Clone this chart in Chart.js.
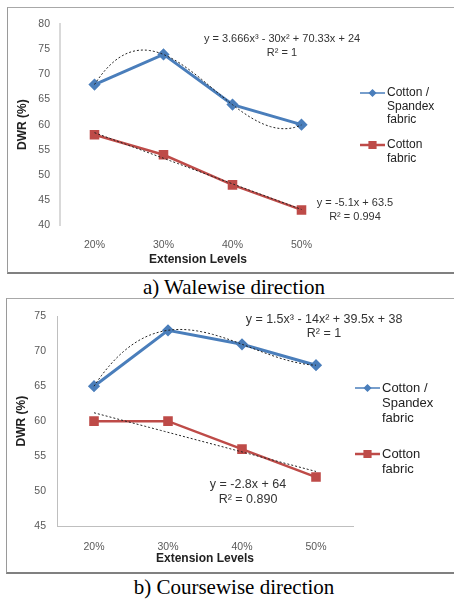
<!DOCTYPE html>
<html>
<head>
<meta charset="utf-8">
<script src="https://cdn.jsdelivr.net/npm/chart.js@4"></script>
<style>
  body { margin: 0; background: #fff; width: 454px; height: 599px; overflow: hidden; position: relative; }
  .frame { position: absolute; border-left: 1px solid #9a9a9a; border-top: 1px solid #a8a8a8; border-bottom: 2px solid #808080; width: 470px; }
  .box { position: absolute; }
  .caption { position: absolute; left: 0; width: 468px; text-align: center; font-family: "Liberation Serif", serif; font-size: 21px; line-height: 24px; color: #000; }
</style>
</head>
<body>
<div class="frame" style="left:7px; top:7px; height:264px;"></div>
<div class="frame" style="left:6px; top:298px; height:273px;"></div>
<div class="box" style="left:8px; top:8px; width:446px; height:264px;"><canvas id="waleChart"></canvas></div>
<div class="box" style="left:7px; top:299px; width:447px; height:273px;"><canvas id="courseChart"></canvas></div>
<div class="caption" style="top:275px;">a) Walewise direction</div>
<div class="caption" style="top:575px;">b) Coursewise direction</div>
<script>
const extensionLevels = ['20%', '30%', '40%', '50%'];

// a) walewise
const waleSpandex = [68, 74, 64, 60];
const waleCotton = [58, 54, 48, 43];
// b) coursewise
const courseSpandex = [65, 73, 71, 68];
const courseCotton = [60, 60, 56, 52];

// trendline coefficients as printed on the chart (c0 + c1*x + c2*x^2 + c3*x^3, x = 1..4)
const waleSpandexFit = [24, 70.33, -30, 3.666];
const waleCottonFit = [63.5, -5.1];
const courseSpandexFit = [38, 39.5, -14, 1.5];
const courseCottonFit = [64, -2.8];

const blue = '#4a7ebb';
const red = '#be4b48';

// draws the excel-style trendlines, equation text and the wrapped legend
const extrasPlugin = {
    id: 'extras',
    afterDatasetsDraw(chart, args, opts) {
        const ctx = chart.ctx;
        const xs = chart.scales.x, ys = chart.scales.y;
        ctx.save();
        opts.fits.forEach(c => {
            ctx.beginPath();
            for (let i = 0; i <= 60; i++) {
                const x = 1 + i * 3 / 60;
                let y = 0;
                c.forEach((k, p) => { y += k * Math.pow(x, p); });
                const px = xs.getPixelForValue(x - 1), py = ys.getPixelForValue(y);
                if (i === 0) ctx.moveTo(px, py); else ctx.lineTo(px, py);
            }
            ctx.strokeStyle = '#222';
            ctx.lineWidth = 1;
            ctx.setLineDash([2, 2]);
            ctx.stroke();
        });
        ctx.setLineDash([]);
        ctx.fillStyle = '#333';
        ctx.textAlign = 'center';
        ctx.textBaseline = 'middle';
        ctx.font = opts.eqFont;
        opts.labels.forEach(l => ctx.fillText(l.text, l.x, l.y));

        // legend
        const lg = opts.legend;
        chart.data.datasets.forEach((ds, i) => {
            const y0 = lg.y[i];
            ctx.strokeStyle = ds.borderColor;
            ctx.fillStyle = ds.borderColor;
            ctx.lineWidth = i === 0 ? 1.5 : 2.5;
            ctx.beginPath();
            ctx.moveTo(lg.x, y0);
            ctx.lineTo(lg.x + 25, y0);
            ctx.stroke();
            Chart.helpers.drawPoint(ctx, { pointStyle: ds.pointStyle, radius: i === 0 ? 3 : 4, borderWidth: 1 }, lg.x + 12.5, y0);
            ctx.fillStyle = '#222';
            ctx.textAlign = 'left';
            ctx.font = lg.font;
            ds.label.split('\n').forEach((t, j) => ctx.fillText(t, lg.x + 27, y0 + j * lg.lh));
        });
        ctx.restore();
    }
};

function makeChart(id, s1, s2, cfg) {
    return new Chart(document.getElementById(id), {
        type: 'line',
        data: {
            labels: extensionLevels,
            datasets: [{
                label: 'Cotton /\nSpandex\nfabric',
                data: s1,
                borderColor: blue,
                backgroundColor: blue,
                borderWidth: 3,
                pointStyle: 'rectRot',
                pointRadius: 4,
                tension: 0
            }, {
                label: 'Cotton\nfabric',
                data: s2,
                borderColor: red,
                backgroundColor: red,
                borderWidth: 2.5,
                pointStyle: 'rect',
                pointRadius: 5,
                tension: 0
            }]
        },
        options: {
            responsive: true,
            maintainAspectRatio: false,
            animation: false,
            layout: { padding: { top: cfg.top, right: cfg.right, left: 0, bottom: 0 } },
            scales: {
                x: {
                    offset: true,
                    afterFit: s => { s.height = cfg.xh; },
                    grid: { display: false, drawTicks: false, offset: true },
                    border: { display: cfg.xLine, color: '#bfbfbf', width: 1 },
                    ticks: { padding: cfg.xpad, color: '#595959', font: { family: 'Liberation Sans', size: 10.5 } },
                    title: { display: true, text: 'Extension Levels', color: '#222', padding: { top: 0, bottom: cfg.tpad }, font: { family: 'Liberation Sans', size: 12, weight: 'bold' } }
                },
                y: {
                    min: cfg.min, max: cfg.max,
                    afterFit: s => { s.width = cfg.yw; },
                    grid: { display: false, drawTicks: false },
                    border: { color: cfg.yLineColor, width: cfg.yLineWidth },
                    ticks: { stepSize: 5, padding: cfg.ypad, color: '#595959', font: { family: 'Liberation Sans', size: 10.5 } },
                    title: { display: true, text: 'DWR (%)', color: '#222', padding: { top: 7, bottom: 0 }, font: { family: 'Liberation Sans', size: 12, weight: 'bold' } }
                }
            },
            plugins: {
                legend: { display: false },
                tooltip: { enabled: false },
                extras: cfg.extras
            }
        },
        plugins: [extrasPlugin]
    });
}

makeChart('waleChart', waleSpandex, waleCotton, {
    top: 13, right: 118, xh: 47, yw: 52, min: 40, max: 80,
    xpad: 14, tpad: 5, ypad: 10, xLine: false, yLineColor: '#d9d9d9', yLineWidth: 2,
    extras: {
        fits: [waleSpandexFit, waleCottonFit],
        eqFont: '11px "Liberation Sans"',
        labels: [
            { text: 'y = 3.666x³ - 30x² + 70.33x + 24', x: 274, y: 31 },
            { text: 'R² = 1', x: 274, y: 45 },
            { text: 'y = -5.1x + 63.5', x: 347, y: 195 },
            { text: 'R² = 0.994', x: 347, y: 209 }
        ],
        legend: { x: 352, y: [85, 137], lh: 13.5, font: '12px "Liberation Sans"' }
    }
});

makeChart('courseChart', courseSpandex, courseCotton, {
    top: 14, right: 101, xh: 46, yw: 50, min: 45, max: 75,
    xpad: 15, tpad: 6, ypad: 11, xLine: true, yLineColor: '#bfbfbf', yLineWidth: 1,
    extras: {
        fits: [courseSpandexFit, courseCottonFit],
        eqFont: '12.5px "Liberation Sans"',
        labels: [
            { text: 'y = 1.5x³ - 14x² + 39.5x + 38', x: 317, y: 21 },
            { text: 'R² = 1', x: 317, y: 35 },
            { text: 'y = -2.8x + 64', x: 241, y: 186 },
            { text: 'R² = 0.890', x: 241, y: 201 }
        ],
        legend: { x: 348, y: [89, 155], lh: 15, font: '13px "Liberation Sans"' }
    }
});
</script>
</body>
</html>
